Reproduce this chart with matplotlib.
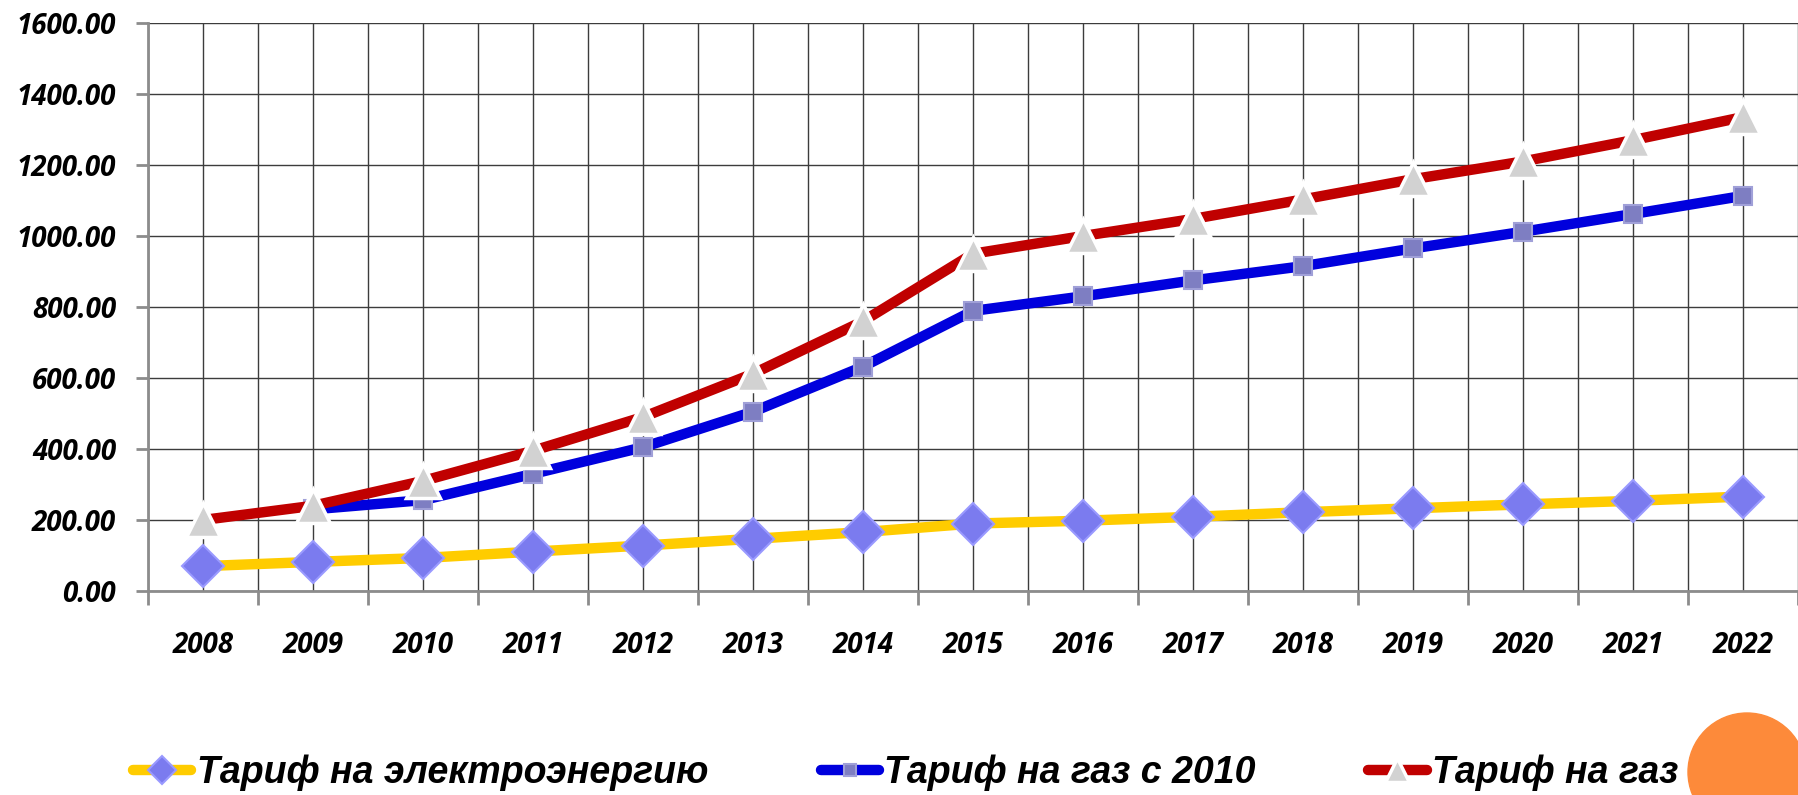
import matplotlib.pyplot as plt
import numpy as np
from matplotlib.patches import Ellipse
from matplotlib.ticker import FixedLocator, FuncFormatter

years = ["2008", "2009", "2010", "2011", "2012", "2013", "2014", "2015",
         "2016", "2017", "2018", "2019", "2020", "2021", "2022"]
tariff_power = [70, 82, 93, 111, 128, 147, 166, 190, 198, 209, 222, 233, 244, 254, 266]
tariff_gas_2010 = [np.nan, 230, 256, 330, 405, 505, 632, 789, 830, 875, 915, 965, 1012, 1062, 1113]
tariff_gas = [200, 240, 310, 395, 490, 612, 760, 950, 1000, 1048, 1103, 1160, 1210, 1270, 1335]
legend_labels = ["Тариф на электроэнергию", "Тариф на газ с 2010", "Тариф на газ"]
y_ticks = [0, 200, 400, 600, 800, 1000, 1200, 1400, 1600]

W, H = 1798, 795
fig = plt.figure(figsize=(W / 100, H / 100), dpi=100)
ax = fig.add_axes([148 / W, 1 - 591 / H, 1 - 148 / W, (591 - 23) / H])

x = np.arange(len(years))
h1, = ax.plot(x, tariff_power, color="#FFCC00", linewidth=7.5, solid_capstyle="round",
              marker="D", markersize=21, markerfacecolor="#7B7BEF",
              markeredgecolor="#9A9AFF", markeredgewidth=1.5, zorder=3)
h2, = ax.plot(x, tariff_gas_2010, color="#0000DD", linewidth=7.5, solid_capstyle="round",
              marker="s", markersize=13, markerfacecolor="#7E7EC2",
              markeredgecolor="#A0A0D8", markeredgewidth=1.5, zorder=4)
h3, = ax.plot(x, tariff_gas, color="#C00000", linewidth=7.5, solid_capstyle="round",
              marker="^", markersize=25, markerfacecolor="#D2D2D2",
              markeredgecolor="white", markeredgewidth=2.5, zorder=5)

ax.set_xlim(-0.5, len(years) - 0.5)
ax.set_ylim(0, 1600)

# category boundaries carry the tick marks, centres carry the labels
ax.xaxis.set_major_locator(FixedLocator(np.arange(-0.5, len(years), 1.0)))
ax.xaxis.set_minor_locator(FixedLocator(x))
ax.xaxis.set_major_formatter(FuncFormatter(lambda v, p: ""))
ax.xaxis.set_minor_formatter(FuncFormatter(lambda v, p: years[int(round(v))]))
ax.tick_params(axis="x", which="major", length=10, width=2, color="#8C8C8C", direction="out")
ax.tick_params(axis="x", which="minor", length=0, pad=29)

ax.set_yticks(y_ticks)
ax.yaxis.set_major_formatter(FuncFormatter(lambda v, p: f"{v:.2f}"))
ax.tick_params(axis="y", length=9, width=2, color="#8C8C8C", direction="out", pad=14)

tick_font = dict(family=["Open Sans", "DejaVu Sans"], weight="bold", style="italic", size=20)
for lab in ax.get_xticklabels(minor=True) + ax.get_yticklabels():
    lab.set(**tick_font)

ax.grid(True, axis="x", which="both", color="#3C3C3C", linewidth=1.0)
ax.grid(True, axis="y", which="major", color="#3C3C3C", linewidth=1.0)
ax.set_axisbelow(True)
for side in ["top", "right"]:
    ax.spines[side].set_visible(False)
for side in ["left", "bottom"]:
    ax.spines[side].set_color("#8C8C8C")
    ax.spines[side].set_linewidth(2)

fig.legend([h1, h2, h3], legend_labels, loc="center left",
           bbox_to_anchor=(133 / W, 1 - 773 / H), ncol=3, frameon=False,
           borderpad=0, borderaxespad=0, handlelength=1.55, handletextpad=0.15,
           columnspacing=3.0, markerscale=0.7,
           prop=dict(family=["Liberation Sans", "DejaVu Sans"], weight="bold",
                     style="italic", size=27))

# orange circle decoration in the lower right corner
fig.patches.append(Ellipse((1747 / W, 1 - 772 / H), 2 * 59 / W, 2 * 59 / H,
                           transform=fig.transFigure, color="#FD8A3A", zorder=0))

fig.savefig("out.png", dpi=100)
